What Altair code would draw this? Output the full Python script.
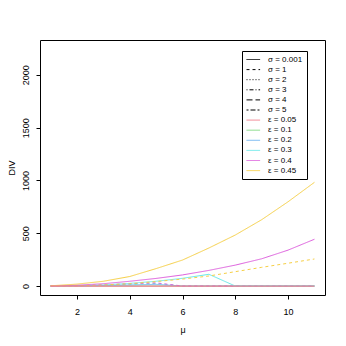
import altair as alt
import pandas as pd

mu = list(range(1, 12))

sigma_labels = ["σ = 0.001", "σ = 1", "σ = 2", "σ = 3", "σ = 4", "σ = 5"]
eps_labels = ["ε = 0.05", "ε = 0.1", "ε = 0.2", "ε = 0.3", "ε = 0.4", "ε = 0.45"]
eps_colors = ["#F07F8E", "#7FD97F", "#6AB2F0", "#66E8E8", "#DD5EDD", "#F6CF45"]
sigma_dashes = [[1, 0], [3, 3], [1, 2], [1, 2, 4, 2], [6, 3], [2, 2, 5, 2]]

# DIV values (one list per visible curve)
div_s0001_e045 = [2, 18, 45, 90, 165, 246, 360, 483, 628, 798, 982]
div_s0001_e040 = [1, 8, 22, 45, 72, 105, 148, 198, 258, 340, 443]
div_s1_e045 = [1, 3, 10, 22, 42, 66, 95, 136, 177, 216, 256]
div_s0001_e030 = [1, 3, 10, 25, 45, 73, 111, 0, 0, 0, 0]
div_s1_e040 = [0.5, 3, 10, 22, 30, 0, 0, 0, 0, 0, 0]
div_s1_e030 = [0.5, 2, 6, 14, 24, 0, 0, 0, 0, 0, 0]
div_s0001_e020 = [0.5, 2, 5, 10, 16, 0, 0, 0, 0, 0, 0]
div_s0001_e010 = [0, 0, 0, 0, 0, 0, 0, 0, 0, 0, 0]
div_s0001_e005 = [0, 0, 0, 0, 0, 0, 0, 0, 0, 0, 0]

curves = [
    ("σ = 0.001", "ε = 0.1", div_s0001_e010),
    ("σ = 0.001", "ε = 0.2", div_s0001_e020),
    ("σ = 1", "ε = 0.3", div_s1_e030),
    ("σ = 1", "ε = 0.4", div_s1_e040),
    ("σ = 0.001", "ε = 0.3", div_s0001_e030),
    ("σ = 1", "ε = 0.45", div_s1_e045),
    ("σ = 0.001", "ε = 0.4", div_s0001_e040),
    ("σ = 0.001", "ε = 0.45", div_s0001_e045),
]

rows = []
for i, (s, e, vals) in enumerate(curves):
    for m, v in zip(mu, vals):
        rows.append({"mu": m, "div": v, "sigma": s, "eps": e, "series": f"{i:02d}"})
df = pd.DataFrame(rows)

df_zero = pd.DataFrame({"mu": mu, "div": div_s0001_e005,
                        "sigma": "σ = 0.001", "eps": "ε = 0.05"})

legend_keys = sigma_labels + eps_labels
df_leg = pd.DataFrame({"key": legend_keys, "mu": [None] * 12, "div": [None] * 12})

font = "Liberation Sans"

xs = alt.Scale(domain=[0.6, 11.4], nice=False, zero=False)
ys = alt.Scale(domain=[-85, 2330], nice=False, zero=False)

xaxis = alt.Axis(title="μ", values=[2, 4, 6, 8, 10], domain=False, grid=False,
                 tickColor="black", tickSize=4, labelFontSize=9, labelColor="black",
                 labelPadding=8, titleFontSize=9, titleFontWeight="normal",
                 titlePadding=9, labelFont=font, titleFont=font, titleColor="black")
yaxis = alt.Axis(title="DIV", values=[0, 500, 1000, 1500, 2000], format="d",
                 domain=False, grid=False,
                 tickColor="black", tickSize=4, labelFontSize=9, labelColor="black",
                 labelAngle=270, labelPadding=6, titleFontSize=9, titleFontWeight="normal",
                 titlePadding=5, labelFont=font, titleFont=font, titleColor="black")

eps_scale = alt.Scale(domain=eps_labels, range=eps_colors)
sig_scale = alt.Scale(domain=sigma_labels, range=sigma_dashes)

lines = alt.Chart(df).mark_line(strokeWidth=1).encode(
    x=alt.X("mu:Q", scale=xs, axis=xaxis),
    y=alt.Y("div:Q", scale=ys, axis=yaxis),
    color=alt.Color("eps:N", scale=eps_scale, legend=None),
    strokeDash=alt.StrokeDash("sigma:N", scale=sig_scale, legend=None),
    detail="series:N",
    order=alt.Order("series:N"),
)

zero_line = alt.Chart(df_zero).mark_line(strokeWidth=1.2).encode(
    x=alt.X("mu:Q", scale=xs),
    y=alt.Y("div:Q", scale=ys),
    color=alt.value(eps_colors[0]),
)

leg_colors = ["black"] * 6 + eps_colors
leg_dashes = sigma_dashes + [[1, 0]] * 6
legend_layer = alt.Chart(df_leg).mark_line(strokeWidth=1).encode(
    x=alt.X("mu:Q", scale=xs),
    y=alt.Y("div:Q", scale=ys),
    color=alt.Color("key:N", scale=alt.Scale(domain=legend_keys, range=leg_colors),
                    legend=alt.Legend(title=None, orient="none", legendX=202, legendY=11,
                                      fillColor="white", strokeColor="black",
                                      padding=4, symbolType="M-1,0H2.4",
                                      symbolSize=64, symbolStrokeWidth=1,
                                      labelFontSize=8, labelFont=font, labelColor="black",
                                      rowPadding=1.1, labelOffset=13)),
    strokeDash=alt.StrokeDash("key:N", scale=alt.Scale(domain=legend_keys, range=leg_dashes)),
)

chart = alt.layer(lines, zero_line, legend_layer).resolve_scale(
    color="independent", strokeDash="independent"
).properties(
    width=285, height=255,
    autosize=alt.AutoSizeParams(type="none"),
    padding={"left": 32, "top": 32, "right": 5, "bottom": 45},
).configure(background="white").configure_view(stroke="black", strokeWidth=1)

chart.save("out.html", embed_options={"renderer": "svg", "actions": False})
